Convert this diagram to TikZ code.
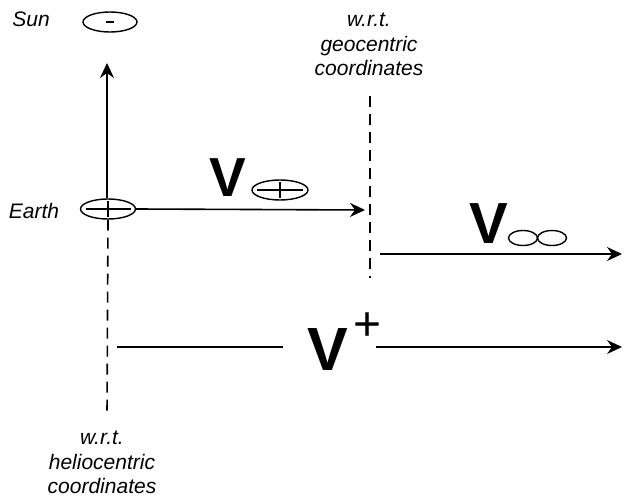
\documentclass[tikz,border=0pt]{standalone}
\usepackage{fontspec}
\setmainfont{Liberation Sans}
\usetikzlibrary{arrows.meta,shapes.geometric}

\begin{document}
\begin{tikzpicture}[x=1pt, y=-1pt,
  every node/.style={inner sep=0pt},
  lbl/.style={font=\fontsize{21}{24.5}\selectfont\itshape, align=center},
  vel/.style={font=\fontsize{#1}{#1}\selectfont\bfseries},
  body/.style={ellipse, draw, line width=1.4pt, minimum width=#1, minimum height=20pt},
  plus/.style={path picture={
      \draw[line width=1.4pt] ([xshift=5pt]path picture bounding box.west) -- ([xshift=-5pt]path picture bounding box.east);
      \draw[line width=1.4pt] ([yshift=-2pt]path picture bounding box.north) -- ([yshift=2pt]path picture bounding box.south);}},
  minus/.style={path picture={
      \draw[line width=1.6pt] ([xshift=-4pt]path picture bounding box.center) -- ([xshift=4pt]path picture bounding box.center);}},
  arrow/.style={-{Stealth[length=15pt, width=14pt, inset=5pt]}, line width=1.6pt},
  refline/.style={line width=1.6pt, dash pattern=on 11pt off 7pt}
]
\useasboundingbox (0,0) rectangle (624,497);

% bodies
\node[lbl, anchor=base] (sunlbl) at (31,27) {Sun};
\node[body=54pt, minus] (sun) at (110,22) {};
\node[lbl, anchor=base] (earthlbl) at (34,219) {Earth};
\node[body=55pt, plus] (earth) at (108,209) {};

% frames
\node[lbl, anchor=north] (geo) at (369,13) {w.r.t.\\geocentric\\coordinates};
\node[lbl, anchor=north] (helio) at (102,431) {w.r.t.\\heliocentric\\coordinates};
\coordinate (geotop) at (370,96);
\coordinate (geobot) at (370,278);
\coordinate (heliobot) at (107,415);
\draw[refline] (geotop) -- (geobot);
\draw[refline] (earth.south) -- (heliobot);

% velocities
\node[vel=55] (ve) at (227.5,177.5) {V};
\node[body=56pt, plus] (vesym) at (280,190) {};
\node[vel=58] (vinf) at (488.5,224) {V};
\draw[line width=1.4pt] (523,238) ellipse (14.5pt and 7.5pt);
\draw[line width=1.4pt] (552,238) ellipse (14.5pt and 7.5pt);
\node[vel=61] (vp) at (327.5,350) {V};
\node[font=\fontsize{48}{48}\selectfont] (vpsup) at (367.5,326.3) {+};

\coordinate (sunward) at (107,63);
\coordinate (veend) at (365,210);
\coordinate (vinfstart) at (380,254);
\coordinate (vinfend) at (622,254);
\coordinate (vpstart) at (117,347);
\coordinate (vpmid) at (283,347);
\coordinate (vpgo) at (376,347);
\coordinate (vpend) at (622,347);

\draw[arrow] (earth.north -| sunward) -- (sunward);
\draw[arrow] (earth.east) -- (veend);
\draw[arrow] (vinfstart) -- (vinfend);
\draw[line width=1.6pt] (vpstart) -- (vpmid);
\draw[arrow] (vpgo) -- (vpend);

\end{tikzpicture}
\end{document}
